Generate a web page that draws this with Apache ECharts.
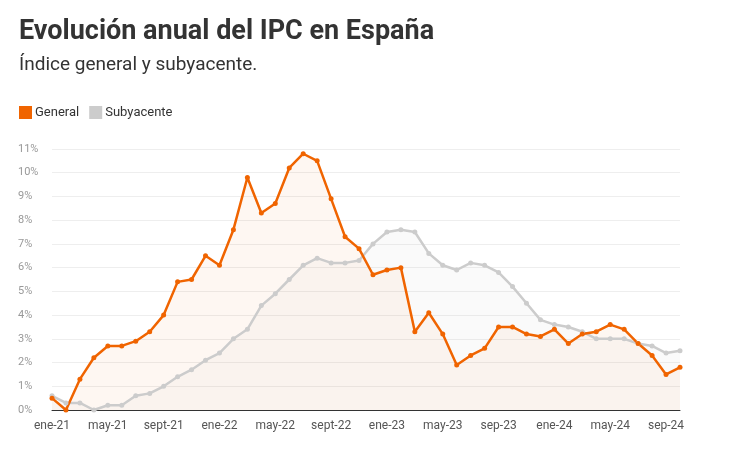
<!DOCTYPE html>
<html><head><meta charset="utf-8">
<script src="https://cdn.jsdelivr.net/npm/echarts@6/dist/echarts.min.js"></script>
<style>body{margin:0}#chart{width:732px;height:451px}</style>
</head><body><div id="chart"></div>
<script>
var months = ['ene','feb','mar','abr','may','jun','jul','ago','sept','oct','nov','dic'];
var categories = [];
[21, 22, 23, 24].forEach(function(y) {
	months.forEach(function(m) {
		var name = (m === 'sept' && y > 22) ? 'sep' : m;
		categories.push(name + '-' + y);
	});
});
categories = categories.slice(0, 46);

var general = [0.5, 0.0, 1.3, 2.2, 2.7, 2.7, 2.9, 3.3, 4.0, 5.4, 5.5, 6.5,
	6.1, 7.6, 9.8, 8.3, 8.7, 10.2, 10.8, 10.5, 8.9, 7.3, 6.8, 5.7,
	5.9, 6.0, 3.3, 4.1, 3.2, 1.9, 2.3, 2.6, 3.5, 3.5, 3.2, 3.1,
	3.4, 2.8, 3.2, 3.3, 3.6, 3.4, 2.8, 2.3, 1.5, 1.8];
var subyacente = [0.6, 0.3, 0.3, 0.0, 0.2, 0.2, 0.6, 0.7, 1.0, 1.4, 1.7, 2.1,
	2.4, 3.0, 3.4, 4.4, 4.9, 5.5, 6.1, 6.4, 6.2, 6.2, 6.3, 7.0,
	7.5, 7.6, 7.5, 6.6, 6.1, 5.9, 6.2, 6.1, 5.8, 5.2, 4.5, 3.8,
	3.6, 3.5, 3.3, 3.0, 3.0, 3.0, 2.8, 2.7, 2.4, 2.5];

var chart = echarts.init(document.getElementById('chart'));
chart.setOption({
	animation: false,
	textStyle: {fontFamily: 'Roboto'},
	title: {
		text: 'Evolución anual del IPC en España',
		subtext: 'Índice general y subyacente.',
		left: 14, top: 14, itemGap: 10,
		textStyle: {fontSize: 27, fontWeight: 'bold', color: '#333'},
		subtextStyle: {fontSize: 19, color: '#333'}
	},
	legend: {
		left: 14, top: 101, itemWidth: 13, itemHeight: 13, itemGap: 10,
		icon: 'rect',
		textStyle: {fontSize: 13, color: '#333', padding: [0, 0, 0, -2]},
		data: ['General', 'Subyacente']
	},
	grid: {left: 52, right: 52, top: 149, bottom: 41},
	xAxis: {
		type: 'category', boundaryGap: false, data: categories,
		axisLine: {lineStyle: {color: '#333'}},
		axisTick: {show: false},
		axisLabel: {interval: 3, color: '#555', fontSize: 12, margin: 10}
	},
	yAxis: {
		type: 'value', min: 0, max: 11, interval: 1,
		axisLabel: {formatter: '{value}%', color: '#999', fontSize: 11, align: 'left', margin: 34},
		splitLine: {lineStyle: {color: '#eee'}}
	},
	series: [{
		name: 'Subyacente', type: 'line', data: subyacente,
		color: '#cccccc', symbol: 'circle', symbolSize: 5,
		lineStyle: {width: 2.5},
		areaStyle: {color: 'rgba(200,200,200,0.12)'}
	}, {
		name: 'General', type: 'line', data: general,
		color: '#f06400', symbol: 'circle', symbolSize: 5,
		lineStyle: {width: 2.5},
		areaStyle: {color: 'rgba(240,100,0,0.07)'}
	}]
});
</script></body></html>
